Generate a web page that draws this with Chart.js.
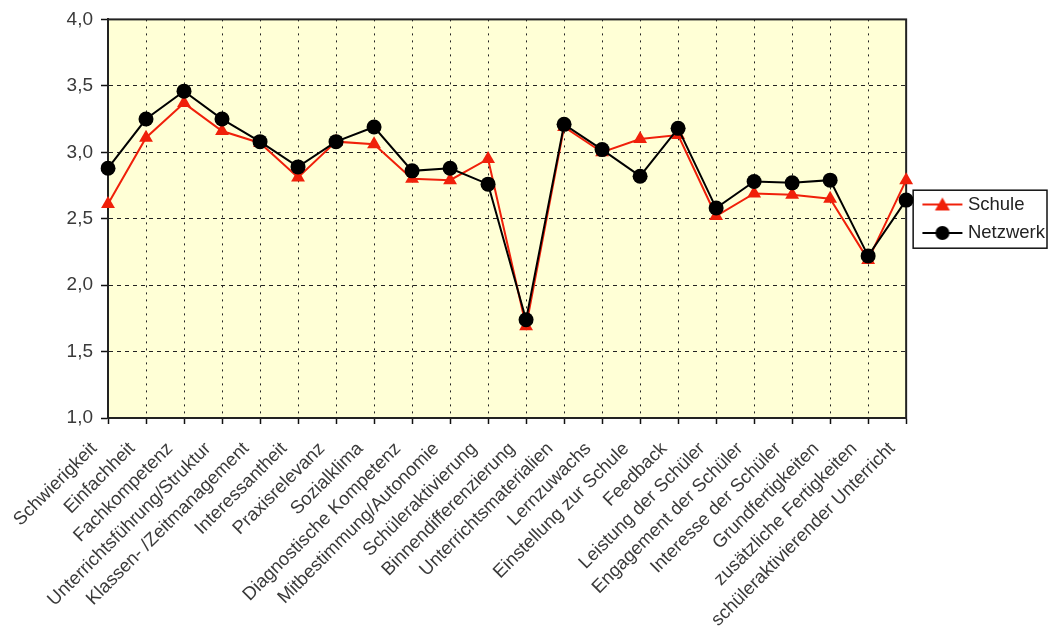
<!DOCTYPE html>
<html>
<head>
<meta charset="utf-8">
<script src="https://cdn.jsdelivr.net/npm/chart.js@4/dist/chart.umd.min.js"></script>
<style>
  html, body { margin: 0; padding: 0; background: #fff; }
  #wrap { width: 1053px; height: 632px; }
</style>
</head>
<body>
<div id="wrap"><canvas id="lineChart" width="1053" height="632"></canvas></div>
<script>
const categories = [
    'Schwierigkeit', 'Einfachheit', 'Fachkompetenz', 'Unterrichtsführung/Struktur',
    'Klassen- /Zeitmanagement', 'Interessantheit', 'Praxisrelevanz', 'Sozialklima',
    'Diagnostische Kompetenz', 'Mitbestimmung/Autonomie', 'Schüleraktivierung',
    'Binnendifferenzierung', 'Unterrichtsmaterialien', 'Lernzuwachs', 'Einstellung zur Schule',
    'Feedback', 'Leistung der Schüler', 'Engagement der Schüler', 'Interesse der Schüler',
    'Grundfertigkeiten', 'zusätzliche Fertigkeiten', 'schüleraktivierender Unterricht'
];
const schule = [2.61, 3.11, 3.37, 3.16, 3.07, 2.81, 3.08, 3.06, 2.80, 2.79, 2.95,
    1.69, 3.19, 3.00, 3.10, 3.13, 2.52, 2.69, 2.68, 2.65, 2.19, 2.79];
const netzwerk = [2.88, 3.25, 3.46, 3.25, 3.08, 2.89, 3.08, 3.19, 2.86, 2.88, 2.76,
    1.74, 3.21, 3.02, 2.82, 3.18, 2.58, 2.78, 2.77, 2.79, 2.22, 2.64];
const yTicks = [1.0, 1.5, 2.0, 2.5, 3.0, 3.5, 4.0];

const RED = '#f0200a';
const BLACK = '#000000';
const FONT = "'Liberation Sans', Arial, sans-serif";

// legend symbol: short line with the marker, drawn a bit right of centre
function legendMarker(color, shape) {
    const c = document.createElement('canvas');
    c.width = 58; c.height = 20;
    const ctx = c.getContext('2d');
    ctx.strokeStyle = color;
    ctx.lineWidth = 2;
    ctx.beginPath();
    ctx.moveTo(14, 10); ctx.lineTo(54, 10);
    ctx.stroke();
    ctx.fillStyle = color;
    ctx.beginPath();
    if (shape === 'triangle') {
        ctx.moveTo(34, 3); ctx.lineTo(41.5, 16); ctx.lineTo(26.5, 16);
    } else {
        ctx.arc(34, 10, 7, 0, Math.PI * 2);
    }
    ctx.closePath();
    ctx.fill();
    return c;
}

const plotFrame = {
    id: 'plotFrame',
    beforeDraw(chart) {
        const { ctx, chartArea: a } = chart;
        ctx.save();
        ctx.fillStyle = '#ffffd6';
        ctx.fillRect(a.left, a.top, a.right - a.left, a.bottom - a.top);
        const boxes = chart.legend && chart.legend.legendHitBoxes;
        if (boxes && boxes.length) {
            const l = Math.min(...boxes.map(b => b.left)) - 3;
            const t = Math.min(...boxes.map(b => b.top)) - 5;
            const r = Math.max(...boxes.map(b => b.left + b.width)) + 2;
            const btm = Math.max(...boxes.map(b => b.top + b.height)) + 6;
            ctx.fillStyle = '#fff';
            ctx.fillRect(l, t, r - l, btm - t);
            ctx.strokeStyle = '#111';
            ctx.lineWidth = 1.5;
            ctx.strokeRect(l, t, r - l, btm - t);
        }
        ctx.restore();
    },
    beforeDatasetsDraw(chart) {
        const { ctx, chartArea: a } = chart;
        ctx.save();
        ctx.strokeStyle = '#222';
        ctx.lineWidth = 2;
        ctx.strokeRect(a.left, a.top, a.right - a.left, a.bottom - a.top);
        ctx.restore();
    }
};

new Chart(document.getElementById('lineChart').getContext('2d'), {
    type: 'line',
    data: {
        labels: categories,
        datasets: [{
            label: 'Schule',
            data: schule,
            borderColor: RED,
            backgroundColor: RED,
            borderWidth: 2,
            pointStyle: 'triangle',
            pointRadius: 8,
            pointBorderWidth: 0,
            order: 1
        }, {
            label: 'Netzwerk',
            data: netzwerk,
            borderColor: BLACK,
            backgroundColor: BLACK,
            borderWidth: 2,
            pointStyle: 'circle',
            pointRadius: 7.5,
            pointBorderWidth: 0,
            order: 0
        }]
    },
    options: {
        responsive: false,
        animation: false,
        layout: { padding: { top: 12, left: 0, right: -2, bottom: 0 } },
        scales: {
            x: {
                offset: false,
                grid: {
                    color: '#222',
                    lineWidth: 1,
                    tickLength: 6,
                    tickColor: '#111',
                    tickWidth: 1.5
                },
                border: { display: true, color: '#222', width: 2, dash: [2, 5] },
                ticks: {
                    autoSkip: false,
                    maxRotation: 45,
                    minRotation: 45,
                    padding: 14,
                    labelOffset: -14,
                    color: '#3a3a3a',
                    font: { family: FONT, size: 18.5 }
                },
                afterFit(scale) { scale.height = 214; }
            },
            y: {
                min: 1,
                max: 4,
                afterBuildTicks(scale) { scale.ticks = yTicks.map(v => ({ value: v })); },
                grid: {
                    color: '#222',
                    lineWidth: 1,
                    tickLength: 7,
                    tickColor: '#111',
                    tickWidth: 1.5
                },
                border: { display: true, color: '#222', width: 2, dash: [4, 4] },
                ticks: {
                    padding: 8,
                    color: '#3a3a3a',
                    font: { family: FONT, size: 19 },
                    callback: v => v.toFixed(1).replace('.', ',')
                },
                afterFit(scale) { scale.width = 108; }
            }
        },
        plugins: {
            legend: {
                position: 'right',
                fullSize: false,
                labels: {
                    usePointStyle: true,
                    pointStyleWidth: 42.5,
                    padding: 10,
                    color: '#222',
                    font: { family: FONT, size: 18.5 },
                    generateLabels(chart) {
                        return [
                            { text: 'Schule', pointStyle: legendMarker(RED, 'triangle'), datasetIndex: 0, fontColor: '#222', lineWidth: 0, strokeStyle: 'transparent', fillStyle: RED },
                            { text: 'Netzwerk', pointStyle: legendMarker(BLACK, 'circle'), datasetIndex: 1, fontColor: '#222', lineWidth: 0, strokeStyle: 'transparent', fillStyle: BLACK }
                        ];
                    }
                }
            },
            tooltip: { enabled: false }
        }
    },
    plugins: [plotFrame]
});
</script>
</body>
</html>
